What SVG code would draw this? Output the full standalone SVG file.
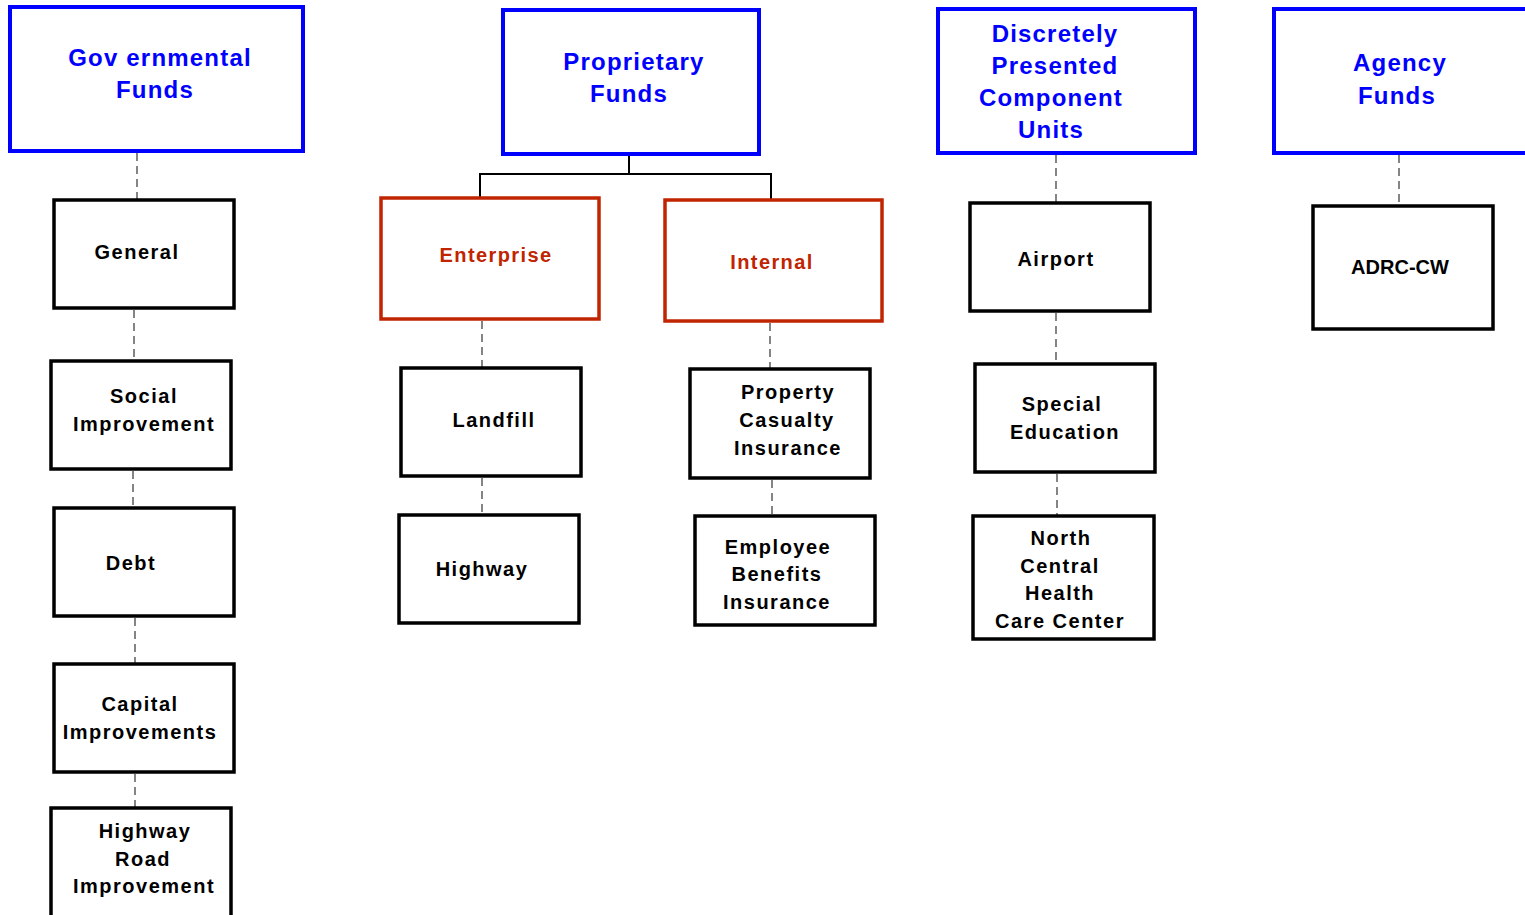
<svg xmlns="http://www.w3.org/2000/svg" width="1525" height="915" viewBox="0 0 1525 915">
<style>
.hdr rect{fill:#fff;stroke:#0000FF;stroke-width:4}
.hdr text{fill:#0000FF;font-family:"Liberation Sans",Arial,sans-serif;font-weight:bold;font-size:24px;text-anchor:middle;letter-spacing:1.2px}
.sub rect{fill:#fff;stroke:#C02400;stroke-width:3.5}
.sub text{fill:#C02400;font-family:"Liberation Sans",Arial,sans-serif;font-weight:bold;font-size:20px;text-anchor:middle;letter-spacing:1.4px}
.leaf rect{fill:#fff;stroke:#000;stroke-width:3.5}
.leaf text{fill:#000;font-family:"Liberation Sans",Arial,sans-serif;font-weight:bold;font-size:20px;text-anchor:middle;letter-spacing:1.5px}
.dash{stroke:#222;stroke-width:1.1;stroke-dasharray:8 5;fill:none}
.solid{stroke:#000;stroke-width:2;fill:none}
</style>
<rect width="1525" height="915" fill="#fff"/>
<g id="connectors">
<line class="dash" x1="137" y1="153" x2="137" y2="199"/>
<line class="dash" x1="134" y1="310" x2="134" y2="360"/>
<line class="dash" x1="133" y1="471" x2="133" y2="507"/>
<line class="dash" x1="135" y1="618" x2="135" y2="663"/>
<line class="dash" x1="135" y1="774" x2="135" y2="807"/>
<polyline class="solid" points="629,155 629,174"/>
<polyline class="solid" points="480,198 480,174 771,174 771,200"/>
<line class="dash" x1="482" y1="321" x2="482" y2="367"/>
<line class="dash" x1="482" y1="478" x2="482" y2="514"/>
<line class="dash" x1="770" y1="323" x2="770" y2="368"/>
<line class="dash" x1="772" y1="480" x2="772" y2="515"/>
<line class="dash" x1="1056" y1="155" x2="1056" y2="202"/>
<line class="dash" x1="1056" y1="313" x2="1056" y2="363"/>
<line class="dash" x1="1057" y1="474" x2="1057" y2="515"/>
<line class="dash" x1="1399" y1="155" x2="1399" y2="208"/>
</g>
<g id="governmental" class="hdr"><rect x="10" y="7" width="293" height="144"/><text x="160" y="66">Gov ernmental</text><text x="155" y="98">Funds</text></g>
<g id="general" class="leaf"><rect x="54" y="200" width="180" height="108"/><text x="137" y="259">General</text></g>
<g id="social" class="leaf"><rect x="51" y="361" width="180" height="108"/><text x="144" y="403">Social</text><text x="144" y="431">Improvement</text></g>
<g id="debt" class="leaf"><rect x="54" y="508" width="180" height="108"/><text x="131" y="570">Debt</text></g>
<g id="capital" class="leaf"><rect x="54" y="664" width="180" height="108"/><text x="140" y="711">Capital</text><text x="140" y="739">Improvements</text></g>
<g id="highwayroad" class="leaf"><rect x="51" y="808" width="180" height="112"/><text x="145" y="838">Highway</text><text x="143" y="866">Road</text><text x="144" y="893">Improvement</text></g>
<g id="proprietary" class="hdr"><rect x="503" y="10" width="256" height="144"/><text x="634" y="70">Proprietary</text><text x="629" y="102">Funds</text></g>
<g id="enterprise" class="sub"><rect x="381" y="198" width="218" height="121"/><text x="496" y="262">Enterprise</text></g>
<g id="internal" class="sub"><rect x="665" y="200" width="217" height="121"/><text x="772" y="269">Internal</text></g>
<g id="landfill" class="leaf"><rect x="401" y="368" width="180" height="108"/><text x="494" y="427">Landfill</text></g>
<g id="highway" class="leaf"><rect x="399" y="515" width="180" height="108"/><text x="482" y="576">Highway</text></g>
<g id="property" class="leaf"><rect x="690" y="369" width="180" height="109"/><text x="788" y="399">Property</text><text x="787" y="427">Casualty</text><text x="788" y="455">Insurance</text></g>
<g id="employee" class="leaf"><rect x="695" y="516" width="180" height="109"/><text x="778" y="554">Employee</text><text x="777" y="581">Benefits</text><text x="777" y="609">Insurance</text></g>
<g id="discretely" class="hdr"><rect x="938" y="9" width="257" height="144"/><text x="1055" y="42">Discretely</text><text x="1055" y="74">Presented</text><text x="1051" y="106">Component</text><text x="1051" y="138">Units</text></g>
<g id="airport" class="leaf"><rect x="970" y="203" width="180" height="108"/><text x="1056" y="266">Airport</text></g>
<g id="special" class="leaf"><rect x="975" y="364" width="180" height="108"/><text x="1062" y="411">Special</text><text x="1065" y="439">Education</text></g>
<g id="northcentral" class="leaf"><rect x="973" y="516" width="181" height="123"/><text x="1061" y="545">North</text><text x="1060" y="573">Central</text><text x="1060" y="600">Health</text><text x="1060" y="628">Care Center</text></g>
<g id="agency" class="hdr"><rect x="1274" y="9" width="260" height="144"/><text x="1400" y="71">Agency</text><text x="1397" y="104">Funds</text></g>
<g id="adrc" class="leaf"><rect x="1313" y="206" width="180" height="123"/><text x="1400" y="274" style="letter-spacing:0">ADRC-CW</text></g>
</svg>
